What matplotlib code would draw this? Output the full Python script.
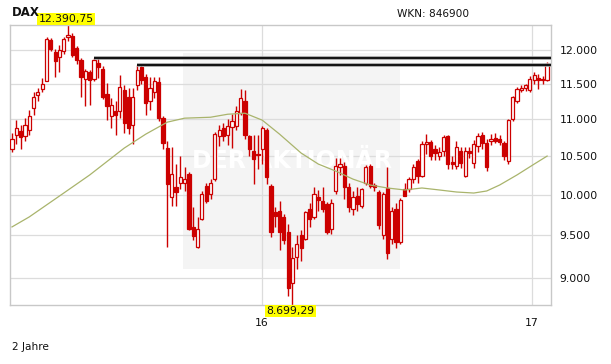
import matplotlib
matplotlib.use("Agg")
import matplotlib.pyplot as plt
from matplotlib.patches import Rectangle

# ---------------- data ----------------
title = "DAX"
wkn_text = "WKN: 846900"
period_text = "2 Jahre"
watermark = "DER AKTIONÄR"

opens = [10590, 10790, 10840, 10765, 10857, 11155, 11335, 11425, 11550, 12152,
         11975, 11900, 11985, 12200, 12216, 12030, 11850, 11570, 11678, 11580,
         11807, 11728, 11350, 11040, 11110, 11110, 11414, 11318, 10925, 11485,
         11750, 11605, 11250, 11390, 11533, 11015, 10612, 9970, 10096, 10155,
         10150, 10270, 9600, 9363, 9700, 10110, 10008, 10198, 10765, 10880,
         10780, 10890, 10900, 11085, 11250, 10765, 10566, 10530, 10588, 10857,
         10110, 9780, 9800, 9720, 9545, 8943, 9246, 9505, 9461, 9822,
         9717, 9967, 9915, 9884, 9580, 10050, 10350, 10370, 10092, 9822,
         9988, 9863, 10155, 10370, 10122, 10030, 9505, 10084, 9450, 9822,
         9420, 10071, 10071, 10198, 10434, 10240, 10665, 10692, 10588, 10500,
         10566, 10765, 10423, 10370, 10566, 10240, 10566, 10412, 10636, 10790,
         10680, 10700, 10740, 10730, 10680, 10430, 11000, 11250, 11420, 11440,
         11414, 11557, 11590, 11580, 11557]
highs = [10812, 10985, 10925, 11020, 11132, 11390, 11440, 11590, 12200, 12182,
         12025, 12076, 12200, 12390.75, 12260, 12060, 11880, 11728, 11700, 11890,
         11880, 11760, 11510, 11300, 11250, 11630, 11485, 11440, 11440, 11777,
         11780, 11640, 11605, 11600, 11600, 11050, 10700, 10620, 10391, 10500,
         10350, 10290, 9845, 9725, 10050, 10150, 10200, 10830, 10925, 10950,
         11000, 11070, 11180, 11435, 11414, 10790, 10789, 10789, 10900, 10880,
         10134, 9850, 9925, 9760, 9640, 9363, 9500, 9560, 9800, 9900,
         10100, 10060, 10100, 9910, 9950, 10470, 10480, 10420, 10150, 10050,
         10100, 10090, 10380, 10391, 10150, 10060, 10040, 10350, 9850, 9900,
         9960, 10150, 10220, 10400, 10460, 10700, 10800, 10720, 10650, 10620,
         10780, 10790, 10500, 10700, 10620, 10620, 10620, 10720, 10810, 10820,
         10730, 10800, 10810, 10790, 10700, 11000, 11330, 11460, 11480, 11500,
         11620, 11680, 11640, 11620, 11820]
lows = [10560, 10665, 10588, 10700, 10789, 11062, 11250, 11390, 11540, 11990,
        11605, 11678, 11950, 12150, 11900, 11800, 11318, 11180, 11201, 11550,
        11585, 11290, 10993, 10880, 10790, 11020, 10816, 10800, 10655, 11414,
        11500, 11062, 11132, 11300, 10980, 10600, 9366, 9863, 9863, 10071,
        10050, 9560, 9441, 9343, 9680, 9900, 9950, 10180, 10632, 10700,
        10650, 10612, 10850, 11062, 10730, 10500, 10134, 10330, 10400, 10134,
        9480, 9600, 9324, 9400, 8796, 8699.29, 9100, 9200, 9440, 9600,
        9700, 9800, 9780, 9520, 9520, 10008, 10250, 9950, 9780, 9750,
        9800, 9830, 10120, 10080, 10050, 9580, 9450, 9214, 9400, 9350,
        9400, 9980, 10030, 10150, 10150, 10220, 10522, 10450, 10450, 10450,
        10500, 10330, 10330, 10330, 10340, 10220, 10480, 10340, 10560, 10600,
        10300, 10650, 10680, 10650, 10450, 10400, 10980, 11230, 11380, 11400,
        11380, 11500, 11430, 11500, 11540]
closes = [10730, 10880, 10753, 10925, 11050, 11318, 11380, 11495, 12167, 12025,
          11835, 12000, 12167, 12230, 11935, 11850, 11600, 11690, 11557, 11851,
          11750, 11318, 11180, 11200, 11062, 11460, 10948, 10880, 11318, 11703,
          11557, 11225, 11436, 11543, 11015, 10680, 10134, 10262, 10030, 10220,
          10200, 9580, 9490, 9580, 10008, 9925, 10155, 10798, 10857, 10765,
          10900, 10980, 11110, 11295, 10790, 10588, 10456, 10510, 10880, 10220,
          9540, 9740, 9540, 9441, 8888, 9227, 9402, 9343, 9780, 9700,
          10008, 9934, 9822, 9545, 9900, 10370, 10391, 10092, 9843, 9967,
          9884, 10071, 10350, 10113, 10092, 9620, 10008, 9285, 9800, 9420,
          9930, 9988, 10198, 10350, 10240, 10655, 10692, 10500, 10544, 10560,
          10753, 10391, 10391, 10620, 10412, 10566, 10540, 10655, 10765, 10680,
          10350, 10730, 10700, 10690, 10500, 10993, 11318, 11430, 11450, 11480,
          11570, 11630, 11557, 11560, 11800]

# 200-day moving average (candle index, value)
ma_index = [0, 4, 12, 18, 26, 31, 36, 40, 46, 50, 54, 58, 62, 67, 71, 75, 79,
            83, 87, 91, 95, 99, 103, 107, 110, 113, 117, 121, 124]
ma_values = [9601, 9723, 10021, 10252, 10606, 10795, 10960, 11015, 11028, 11070,
             11084, 10987, 10795, 10540, 10394, 10303, 10199, 10123, 10085, 10060,
             10085, 10060, 10034, 10021, 10047, 10123, 10252, 10394, 10500]

# resistance lines (level, starting candle index)
resistance_levels = [11890, 11780]
resistance_start = [19, 29]

y_ticks = [9000, 9500, 10000, 10500, 11000, 11500, 12000]
x_tick_labels = ["16", "17"]
x_tick_pos = [57.9, 120.4]

# ---------------- styling ----------------
RED = "#cc0000"
GRID = "#dcdcdc"
FRAME = "#c8c8c8"
TXT = "#111111"


def de_fmt(v, dec=0):
    s = f"{v:,.{dec}f}"
    return s.replace(",", "X").replace(".", ",").replace("X", ".")


W, H = 611, 364
fig = plt.figure(figsize=(W / 100, H / 100), dpi=100)
fig.patch.set_facecolor("white")
ax = fig.add_axes([10 / W, (H - 305) / H, 541 / W, 280 / H])
ax.set_yscale("log")

n = len(opens)
ymin, ymax = min(lows), max(highs)
ax.set_xlim(-0.46, n - 0.1)
ax.set_ylim(ymin, ymax)

# watermark background
ax.add_patch(Rectangle((0.32, 0.129), 0.401, 0.771, transform=ax.transAxes,
                       facecolor="#f4f4f4", edgecolor="none", zorder=0.1))

# grid
ax.set_axisbelow(True)
ax.set_yticks(y_ticks)
ax.set_yticklabels([de_fmt(v) for v in y_ticks])
ax.yaxis.set_minor_locator(matplotlib.ticker.NullLocator())
ax.set_xticks(x_tick_pos)
ax.set_xticklabels(x_tick_labels)
ax.grid(True, color=GRID, lw=0.9)
ax.yaxis.tick_right()
ax.tick_params(axis="y", length=0, pad=6, labelsize=7.8, labelcolor=TXT)
ax.tick_params(axis="x", length=0, pad=9, labelsize=7.8, labelcolor=TXT)
for sp in ax.spines.values():
    sp.set_color(FRAME)
    sp.set_linewidth(1.0)

ax.text(0.521, 0.514, watermark, transform=ax.transAxes, ha="center",
        va="center", color="white", fontsize=17, fontweight="bold",
        zorder=0.6)

# candles
bw = 0.75
for i in range(n):
    o, h, l, c = opens[i], highs[i], lows[i], closes[i]
    ax.vlines(i, l, h, color=RED, lw=1.0, zorder=2)
    lo, hi = min(o, c), max(o, c)
    up = c >= o
    ax.add_patch(Rectangle((i - bw / 2, lo), bw, hi - lo,
                           facecolor="white" if up else RED,
                           edgecolor=RED, lw=0.9, zorder=3))

# moving average
ax.plot(ma_index, ma_values, color="#a9b46c", lw=0.9, zorder=4)

# resistance lines
for lvl, s in zip(resistance_levels, resistance_start):
    ax.plot([s, n - 0.1], [lvl, lvl], color="#9a9a9a", lw=2.6, zorder=5,
            solid_capstyle="butt")
    ax.plot([s, n - 0.1], [lvl, lvl], color="#111111", lw=1.4, zorder=6,
            solid_capstyle="butt")

# high / low labels
imax = highs.index(ymax)
imin = lows.index(ymin)
ax.text(imax - 0.4, ymax * 1.0012, de_fmt(ymax, 2), ha="center", va="bottom",
        fontsize=7.8, color=TXT, zorder=7, clip_on=False,
        bbox=dict(boxstyle="square,pad=0.12", fc="#ffff00", ec="none"))
ax.text(imin - 0.4, ymin * 0.9985, de_fmt(ymin, 2), ha="center", va="top",
        fontsize=7.8, color=TXT, zorder=7, clip_on=False,
        bbox=dict(boxstyle="square,pad=0.12", fc="#ffff00", ec="none"))

# header / footer texts
fig.text(12 / W, 1 - 13 / H, title, fontsize=8.5, fontweight="bold",
         va="center", ha="left", color=TXT)
fig.text(397 / W, 1 - 14 / H, wkn_text, fontsize=7.6, va="center",
         ha="left", color=TXT)
fig.text(12 / W, 1 - 347 / H, period_text, fontsize=7.6, va="center",
         ha="left", color=TXT)

fig.savefig("out.png", dpi=100)
